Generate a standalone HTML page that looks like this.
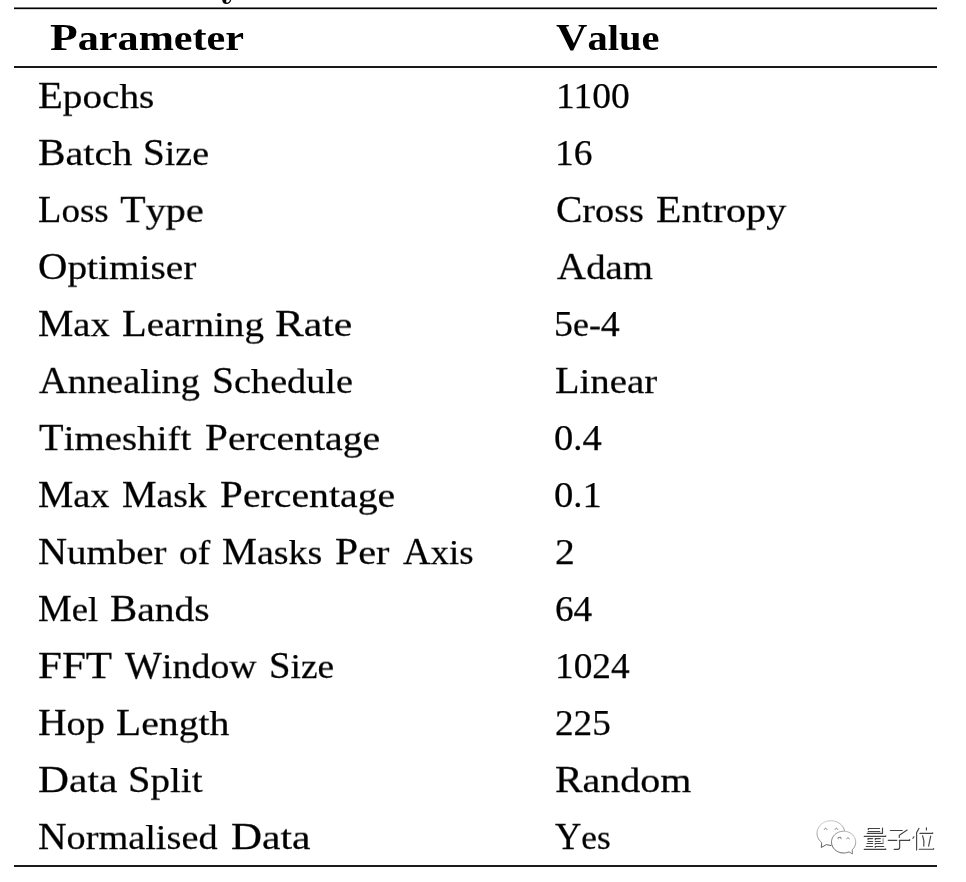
<!DOCTYPE html>
<html><head><meta charset="utf-8"><style>
html,body{margin:0;padding:0;background:#fff;width:966px;height:882px;overflow:hidden;position:relative}

.t{position:absolute;font-family:"Liberation Serif",serif;font-size:35.2px;line-height:40px;white-space:nowrap;color:#000;transform-origin:0 0;will-change:transform}
.t .u{display:inline-block;font-size:36.4px;transform:scaleY(1.0960);transform-origin:0 32.285px} .t .d{font-size:37.2px}
.t{-webkit-text-stroke:0.25px #000} .t.b{font-weight:bold;font-size:35.7px;-webkit-text-stroke:0.0px #fff} .t.b .u{display:inline;transform:none;font-size:38.3px} .t.b .d{font-size:37.1px}
.mk{display:inline-block;width:0;height:0}

.r{position:absolute;left:14px;width:923px}
</style></head><body>
<div class="r" style="top:7px;height:3px;background:linear-gradient(#777 0,#777 1px,#000 1px,#000 2px,#d5d5d5 2px)"></div>
<div class="r" style="top:66px;height:2px;background:#181818"></div>
<div class="r" style="top:865px;height:2px;background:#1a1a1a"></div>
<div class="t b" style="left:50.04px;top:16.80px;transform:scale(1.1828,1.0000);transform-origin:0 33.00px"><span class="u">P</span>arameter</div>
<div class="t b" style="left:556.10px;top:16.80px;transform:scale(1.1354,1.0000);transform-origin:0 33.00px"><span class="u">V</span>alue</div>
<div class="t" style="left:37.89px;top:76.00px;transform:scale(1.1147,0.9600);transform-origin:0 32.00px"><span class="u">E</span>pochs</div>
<div class="t" style="left:555.97px;top:76.00px;transform:scale(1.0101,0.9600);transform-origin:0 32.00px"><span class="d">1100</span></div>
<div class="t" style="left:37.71px;top:133.00px;transform:scale(1.1369,0.9600);transform-origin:0 32.00px"><span class="u">B</span>atch</div>
<div class="t" style="left:142.77px;top:133.00px;transform:scale(1.0777,0.9600);transform-origin:0 32.00px"><span class="u">S</span>ize</div>
<div class="t" style="left:554.97px;top:133.00px;transform:scale(1.0091,0.9600);transform-origin:0 32.00px"><span class="d">16</span></div>
<div class="t" style="left:37.95px;top:190.00px;transform:scale(1.0523,0.9600);transform-origin:0 32.00px"><span class="u">L</span>oss</div>
<div class="t" style="left:120.46px;top:190.00px;transform:scale(1.1468,0.9600);transform-origin:0 32.00px"><span class="u">T</span>ype</div>
<div class="t" style="left:555.73px;top:190.00px;transform:scale(1.0857,0.9600);transform-origin:0 32.00px"><span class="u">C</span>ross</div>
<div class="t" style="left:655.66px;top:190.00px;transform:scale(1.1416,0.9600);transform-origin:0 32.00px"><span class="u">E</span>ntropy</div>
<div class="t" style="left:37.98px;top:247.00px;transform:scale(1.1185,0.9600);transform-origin:0 32.00px"><span class="u">O</span>ptimiser</div>
<div class="t" style="left:556.90px;top:247.00px;transform:scale(1.1047,0.9600);transform-origin:0 32.00px"><span class="u">A</span>dam</div>
<div class="t" style="left:37.91px;top:304.00px;transform:scale(1.0922,0.9600);transform-origin:0 32.00px"><span class="u">M</span>ax</div>
<div class="t" style="left:121.89px;top:304.00px;transform:scale(1.1111,0.9600);transform-origin:0 32.00px"><span class="u">L</span>earning</div>
<div class="t" style="left:274.82px;top:304.00px;transform:scale(1.1841,0.9600);transform-origin:0 32.00px"><span class="u">R</span>ate</div>
<div class="t" style="left:554.26px;top:304.00px;transform:scale(1.0194,0.9600);transform-origin:0 32.00px"><span class="d">5</span>e-<span class="d">4</span></div>
<div class="t" style="left:39.00px;top:361.00px;transform:scale(1.0905,0.9600);transform-origin:0 32.00px"><span class="u">A</span>nnealing</div>
<div class="t" style="left:211.64px;top:361.00px;transform:scale(1.0873,0.9600);transform-origin:0 32.00px"><span class="u">S</span>chedule</div>
<div class="t" style="left:554.55px;top:361.00px;transform:scale(1.1031,0.9600);transform-origin:0 32.00px"><span class="u">L</span>inear</div>
<div class="t" style="left:38.53px;top:418.00px;transform:scale(1.1069,0.9600);transform-origin:0 32.00px"><span class="u">T</span>imeshift</div>
<div class="t" style="left:204.87px;top:418.00px;transform:scale(1.1307,0.9600);transform-origin:0 32.00px"><span class="u">P</span>ercentage</div>
<div class="t" style="left:553.80px;top:418.00px;transform:scale(1.0364,0.9600);transform-origin:0 32.00px"><span class="d">0</span>.<span class="d">4</span></div>
<div class="t" style="left:37.91px;top:475.00px;transform:scale(1.0906,0.9600);transform-origin:0 32.00px"><span class="u">M</span>ax</div>
<div class="t" style="left:122.23px;top:475.00px;transform:scale(1.0679,0.9600);transform-origin:0 32.00px"><span class="u">M</span>ask</div>
<div class="t" style="left:219.97px;top:475.00px;transform:scale(1.1301,0.9600);transform-origin:0 32.00px"><span class="u">P</span>ercentage</div>
<div class="t" style="left:553.79px;top:475.00px;transform:scale(1.0405,0.9600);transform-origin:0 32.00px"><span class="d">0</span>.<span class="d">1</span></div>
<div class="t" style="left:37.89px;top:532.00px;transform:scale(1.1052,0.9600);transform-origin:0 32.00px"><span class="u">N</span>umber</div>
<div class="t" style="left:179.16px;top:533.00px;transform:scale(1.0674,0.9600);transform-origin:0 31.00px">of</div>
<div class="t" style="left:222.22px;top:532.00px;transform:scale(1.0780,0.9600);transform-origin:0 32.00px"><span class="u">M</span>asks</div>
<div class="t" style="left:334.86px;top:532.00px;transform:scale(1.1435,0.9600);transform-origin:0 32.00px"><span class="u">P</span>er</div>
<div class="t" style="left:402.73px;top:532.00px;transform:scale(1.0478,0.9600);transform-origin:0 32.00px"><span class="u">A</span>xis</div>
<div class="t" style="left:555.05px;top:532.00px;transform:scale(1.0636,0.9600);transform-origin:0 32.00px"><span class="d">2</span></div>
<div class="t" style="left:37.96px;top:589.00px;transform:scale(1.0429,0.9600);transform-origin:0 32.00px"><span class="u">M</span>el</div>
<div class="t" style="left:110.08px;top:589.00px;transform:scale(1.1218,0.9600);transform-origin:0 32.00px"><span class="u">B</span>ands</div>
<div class="t" style="left:554.72px;top:589.00px;transform:scale(1.0014,0.9600);transform-origin:0 32.00px"><span class="d">64</span></div>
<div class="t" style="left:37.82px;top:646.00px;transform:scale(1.1820,0.9600);transform-origin:0 32.00px"><span class="u">FFT</span></div>
<div class="t" style="left:125.40px;top:646.00px;transform:scale(1.0754,0.9600);transform-origin:0 32.00px"><span class="u">W</span>indow</div>
<div class="t" style="left:269.28px;top:646.00px;transform:scale(1.0621,0.9600);transform-origin:0 32.00px"><span class="u">S</span>ize</div>
<div class="t" style="left:554.64px;top:646.00px;transform:scale(1.0049,0.9600);transform-origin:0 32.00px"><span class="d">1024</span></div>
<div class="t" style="left:37.91px;top:703.00px;transform:scale(1.0881,0.9600);transform-origin:0 32.00px"><span class="u">H</span>op</div>
<div class="t" style="left:115.87px;top:703.00px;transform:scale(1.1303,0.9600);transform-origin:0 32.00px"><span class="u">L</span>ength</div>
<div class="t" style="left:555.30px;top:703.00px;transform:scale(1.0000,0.9600);transform-origin:0 32.00px"><span class="d">225</span></div>
<div class="t" style="left:37.82px;top:760.00px;transform:scale(1.1788,0.9600);transform-origin:0 32.00px"><span class="u">D</span>ata</div>
<div class="t" style="left:128.18px;top:760.00px;transform:scale(1.1092,0.9600);transform-origin:0 32.00px"><span class="u">S</span>plit</div>
<div class="t" style="left:554.90px;top:760.00px;transform:scale(1.1358,0.9600);transform-origin:0 32.00px"><span class="u">R</span>andom</div>
<div class="t" style="left:37.91px;top:817.00px;transform:scale(1.0878,0.9600);transform-origin:0 32.00px"><span class="u">N</span>ormalised</div>
<div class="t" style="left:230.82px;top:817.00px;transform:scale(1.1803,0.9600);transform-origin:0 32.00px"><span class="u">D</span>ata</div>
<div class="t" style="left:555.29px;top:817.00px;transform:scale(1.0021,0.9600);transform-origin:0 32.00px"><span class="u">Y</span>es</div>
<svg style="position:absolute;left:0;top:0" width="966" height="882" viewBox="0 0 966 882">
<path d="M222.3 0 C222.2 2.5 224 4 226.5 4 C229 4 231 2.3 231.2 0 L229.9 0 C229.6 1.7 228.2 2.8 226.8 2.8 C226 2.2 226 1 226.4 0 Z" fill="#000"/>
<defs>
<linearGradient id="g1" x1="0" y1="0" x2="0.3" y2="1"><stop offset="0" stop-color="#d0d0d0"/><stop offset="0.5" stop-color="#999"/><stop offset="1" stop-color="#555"/></linearGradient>
<linearGradient id="g2" x1="1" y1="0" x2="0" y2="1"><stop offset="0" stop-color="#ccc"/><stop offset="0.45" stop-color="#888"/><stop offset="1" stop-color="#444"/></linearGradient>
</defs>
<g fill="none" stroke-width="1" stroke-linejoin="round">
<path stroke="url(#g1)" d="M844.59 831.03 L844.41 830.26 L844.17 829.50 L843.88 828.75 L843.54 828.02 L843.15 827.31 L842.71 826.62 L842.22 825.96 L841.68 825.33 L841.11 824.73 L840.49 824.17 L839.83 823.64 L839.13 823.15 L838.41 822.70 L837.65 822.30 L836.86 821.94 L836.05 821.62 L835.22 821.35 L834.38 821.13 L833.51 820.95 L832.64 820.83 L831.76 820.75 L830.88 820.73 L830.00 820.76 L829.12 820.83 L828.25 820.96 L827.39 821.13 L826.54 821.36 L825.71 821.63 L824.90 821.95 L824.12 822.31 L823.36 822.72 L822.64 823.17 L821.94 823.66 L821.29 824.19 L820.67 824.76 L820.09 825.36 L819.56 825.99 L819.07 826.65 L818.63 827.34 L818.24 828.05 L817.90 828.78 L817.62 829.53 L817.38 830.29 L817.20 831.07 L817.08 831.85 L817.01 832.64 L817.00 833.44 L817.05 834.23 L817.15 835.01 L817.30 835.79 L817.51 836.56 L817.78 837.32 L818.10 838.06 L818.47 838.78 L818.89 839.47 L819.35 840.14 L819.87 840.79 L820.43 841.40 L821.03 841.98 L821.67 842.53 L821.3 847.5 L826.3 844.6 L831.3 845.6"/>
<path stroke="url(#g2)" d="M849.00 851.85 L847.90 852.29 L846.76 852.62 L845.59 852.85 L844.40 852.98 L843.20 852.99 L842.00 852.90 L840.82 852.71 L839.67 852.41 L838.56 852.01 L837.49 851.51 L836.49 850.92 L835.55 850.24 L834.70 849.48 L833.93 848.65 L833.26 847.76 L832.69 846.81 L832.22 845.81 L831.87 844.78 L831.63 843.72 L831.52 842.65 L831.51 841.56 L831.63 840.49 L831.87 839.43 L832.22 838.40 L832.68 837.40 L833.25 836.45 L833.92 835.55 L834.69 834.72 L835.55 833.97 L836.48 833.29 L837.48 832.70 L838.55 832.20 L839.66 831.79 L840.81 831.49 L841.99 831.30 L843.19 831.21 L844.39 831.22 L845.58 831.35 L846.75 831.58 L847.89 831.91 L848.99 832.34 L850.04 832.87 L851.02 833.49 L851.93 834.19 L852.76 834.97 L853.49 835.83 L854.14 836.74 L854.67 837.70 L855.10 838.71 L855.42 839.76 L855.62 840.82 L855.70 841.90 L855.66 842.98 L855.50 844.05 L855.23 845.10 L854.84 846.13 L854.35 847.11 L853.74 848.04 L853.04 848.92 L852.25 849.73 L852.4 853.9 Z"/>
</g>
<g fill="none" stroke="#777" stroke-width="0.9">
<path d="M824.1 829.8 Q825.6 826.6 827.1 829.8M834.9 829.8 Q836.4 826.6 837.9 829.8M838.1 839.2 V837.4 H841 V839.2M846.4 838.9 Q847.9 836.4 849.6 838.9"/>
</g>
<g fill="none" stroke="#444" stroke-width="1.15" stroke-linecap="round">
<path d="M868.3 829.6V828.45H879.6M882.5 828.1V833.4M868.2 831.5H879.8M867.2 833.4H882.6M864.2 836.4H885.6L885.7 835.8M868.1 839.7V838.6H872.6M875.3 839.7V838.6H880.3M868 841.5H872.6M875.3 841.5H880.3M867.1 843.5H872.6M875.3 844.2V843.5H883M866.3 846.5H872.6M875.3 847.3V846.5H883.7M864.2 849.4H885.6L885.7 848.8"/>
<path stroke="#999" d="M883.1 838.4V843.2"/>
<path d="M890.4 830.5H902.3M907.1 830L899.3 835.4V837.4M888.2 840.35H896.8M899.3 840.35H909.6L909.7 839.6M899.65 840.4V847.6Q899.5 849.4 897 849.4H894.2"/>
<path d="M919 828.3L916.6 832.6V850M913.9 836.8L912.9 838.3M926.4 827.7V829.9M919.9 833.4H932.6L932.7 832.8M922.6 835.8Q924.6 841 923.8 846.2M930.7 836.1L928.6 846.2M919.3 849.2H933.6L933.7 848.5"/>
</g>
</svg>

</body></html>
